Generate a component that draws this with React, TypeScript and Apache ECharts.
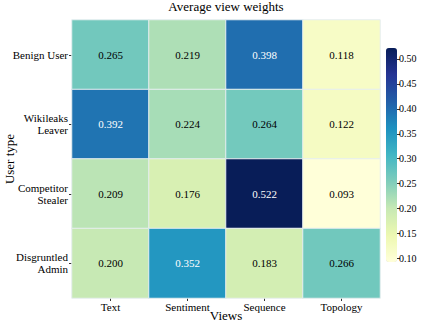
import React, { useEffect, useRef } from "react";
import * as echarts from "echarts";

const views = ["Text", "Sentiment", "Sequence", "Topology"];
const userTypes = ["Benign User", "Wikileaks\nLeaver", "Competitor\nStealer", "Disgruntled\nAdmin"];
const weights = [
  [0.265, 0.219, 0.398, 0.118],
  [0.392, 0.224, 0.264, 0.122],
  [0.209, 0.176, 0.522, 0.093],
  [0.2, 0.352, 0.183, 0.266],
];
const colorbarTicks = [0.1, 0.15, 0.2, 0.25, 0.3, 0.35, 0.4, 0.45, 0.5];
const ylgnbu = ["#ffffd9", "#edf8b1", "#c7e9b4", "#7fcdbb", "#41b6c4", "#1d91c0", "#225ea8", "#253494", "#081d58"];

const FONT = "'Times New Roman', 'Liberation Serif', Times, serif";

export default function App() {
  const ref = useRef<HTMLDivElement>(null);
  useEffect(() => {
    if (!ref.current) return;
    const chart = echarts.init(ref.current, undefined, { renderer: "svg" });
    const flat = weights.flat();
    const vmin = Math.min(...flat);
    const vmax = Math.max(...flat);
    const data: any[] = [];
    weights.forEach((row, yi) =>
      row.forEach((v, xi) => {
        data.push({
          value: [xi, yi, v],
          label: { color: v > 0.3 ? "#ffffff" : "#000000" },
        });
      })
    );
    chart.setOption({
      animation: false,
      textStyle: { fontFamily: FONT },
      title: {
        text: "Average view weights",
        left: 226,
        textAlign: "center",
        top: 0,
        padding: 0,
        textStyle: { fontFamily: FONT, fontSize: 13, fontWeight: "normal", color: "#000" },
      },
      grid: [
        { left: 72, top: 20, width: 308, height: 278, outerBoundsMode: "none", containLabel: false },
        { left: 386, top: 48, width: 11, height: 214, outerBoundsMode: "none", containLabel: false },
      ],
      xAxis: [
        {
          type: "category",
          data: views,
          gridIndex: 0,
          position: "bottom",
          axisLine: { show: false },
          axisTick: { show: true, length: 3, alignWithLabel: true, lineStyle: { color: "#333" } },
          axisLabel: { fontFamily: FONT, fontSize: 11, color: "#000", margin: 3 },
          splitLine: { show: false },
          name: "Views",
          nameLocation: "middle",
          nameGap: 11,
          nameMoveOverlap: false,
          nameTextStyle: { fontFamily: FONT, fontSize: 13, color: "#000", verticalAlign: "top" },
        },
        { type: "category", gridIndex: 1, show: false, data: [""] },
      ],
      yAxis: [
        {
          type: "category",
          data: userTypes,
          gridIndex: 0,
          inverse: true,
          axisLine: { show: false },
          axisTick: { show: true, length: 3, alignWithLabel: true, lineStyle: { color: "#333" } },
          axisLabel: { fontFamily: FONT, fontSize: 11, color: "#000", margin: 4, lineHeight: 12 },
          splitLine: { show: false },
          name: "User type",
          nameLocation: "middle",
          nameGap: 56,
          nameMoveOverlap: false,
          nameRotate: 90,
          nameTextStyle: { fontFamily: FONT, fontSize: 13, color: "#000" },
        },
        {
          type: "value",
          gridIndex: 1,
          min: vmin,
          max: vmax,
          position: "right",
          axisLine: { show: false },
          splitLine: { show: false },
          axisTick: { show: true, length: 3, customValues: colorbarTicks, lineStyle: { color: "#333" } },
          axisLabel: {
            fontFamily: FONT,
            fontSize: 10,
            color: "#000",
            margin: 2,
            customValues: colorbarTicks,
            formatter: (v: number) => v.toFixed(2),
          },
        },
      ],
      visualMap: {
        type: "continuous",
        min: vmin,
        max: vmax,
        calculable: false,
        show: true,
        seriesIndex: 0,
        left: 386,
        top: 48,
        padding: 0,
        itemWidth: 11,
        itemHeight: 214,
        text: null,
        inRange: { color: ylgnbu },
      },
      series: [
        {
          type: "heatmap",
          xAxisIndex: 0,
          yAxisIndex: 0,
          data,
          itemStyle: { borderColor: "#e6eef0", borderWidth: 1 },
          label: {
            show: true,
            fontFamily: FONT,
            fontSize: 11,
            formatter: (p: any) => p.value[2].toFixed(3),
          },
        },
      ],
    });
    return () => chart.dispose();
  }, []);
  return (
    <div
      ref={ref}
      style={{ position: "absolute", left: 0, top: 0, width: 421, height: 325, background: "#fff" }}
    />
  );
}
